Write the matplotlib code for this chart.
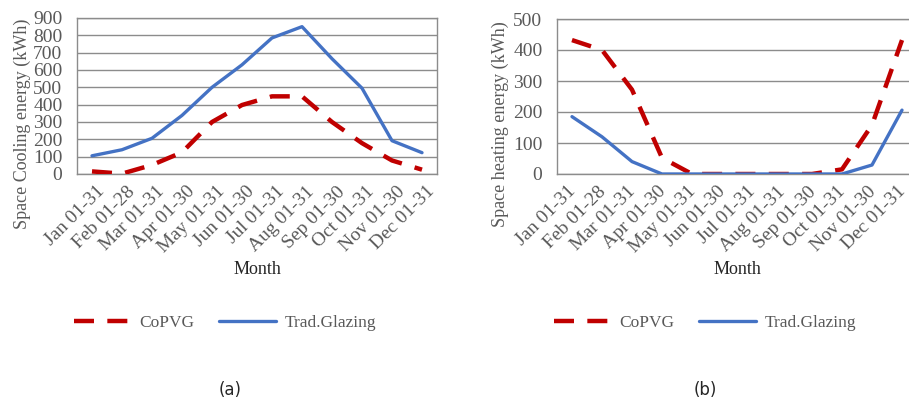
import matplotlib
matplotlib.use("Agg")
import matplotlib.pyplot as plt
import matplotlib.transforms as mtransforms

months = ["Jan 01-31", "Feb 01-28", "Mar 01-31", "Apr 01-30", "May 01-31", "Jun 01-30",
          "Jul 01-31", "Aug 01-31", "Sep 01-30", "Oct 01-31", "Nov 01-30", "Dec 01-31"]

# (a) space cooling energy, kWh
cool_copvg = [15, 2, 52, 125, 300, 398, 448, 448, 300, 178, 78, 25]
cool_trad = [105, 140, 206, 338, 500, 630, 785, 850, 665, 495, 192, 123]

# (b) space heating energy, kWh
heat_copvg = [432, 400, 272, 52, 0, 0, 0, 0, 0, 15, 158, 432]
heat_trad = [185, 120, 40, 0, 0, 0, 0, 0, 0, 0, 29, 206]

red = "#C00000"
blue = "#4472C4"
gray_txt = "#595959"
grid_c = "#8C8C8C"
serif = ["Liberation Serif", "DejaVu Serif"]

plt.rcParams['font.family'] = serif

fig = plt.figure(figsize=(9.09, 4.04), dpi=100)

W, H = 909.0, 404.0
def box(x0, x1, ytop, ybot):
    return [x0 / W, 1 - ybot / H, (x1 - x0) / W, (ybot - ytop) / H]

ax1 = fig.add_axes(box(77, 437, 18, 174))
ax2 = fig.add_axes(box(557, 917, 19, 174))

def style(ax, ymax, ylabel, ylab_x, xoff):
    x = range(len(months))
    ax.set_xlim(-0.5, len(months) - 0.5)
    ax.set_ylim(0, ymax)
    ax.set_yticks(range(0, ymax + 1, 100))
    ax.yaxis.grid(True, color=grid_c, linewidth=1.0)
    ax.set_axisbelow(True)
    for s in ax.spines.values():
        s.set_color(grid_c)
        s.set_linewidth(1.0)
    ax.tick_params(axis="y", length=0, labelsize=14, labelcolor=gray_txt, pad=10.5)
    ax.tick_params(axis="x", length=0, labelcolor=gray_txt, pad=6.5)
    ax.set_xticks(list(x))
    ax.set_xticklabels(months, rotation=45, ha="right", va="top",
                       rotation_mode="anchor", fontsize=14)
    off = mtransforms.ScaledTranslation(xoff / 100, 0, fig.dpi_scale_trans)
    for lab in ax.get_xticklabels():
        lab.set_transform(lab.get_transform() + off)
    fig.text(ylab_x / W, 1 - 124 / H, ylabel, rotation=90, ha="center", va="center",
             fontsize=13, color=gray_txt)

def draw(ax, copvg, trad):
    x = range(len(months))
    ax.plot(x, copvg, color=red, linewidth=3.2, linestyle=(0, (4.5, 3.0)),
            dash_capstyle="butt", label="CoPVG", zorder=3)
    ax.plot(x, trad, color=blue, linewidth=2.4, solid_capstyle="round",
            label="Trad.Glazing", zorder=3)

draw(ax1, cool_copvg, cool_trad)
draw(ax2, heat_copvg, heat_trad)
style(ax1, 900, "Space Cooling energy (kWh)", 22, 4)
style(ax2, 500, "Space heating energy (kWh)", 500, -5)

fig.text(257 / W, 1 - 270 / H, "Month", ha="center", va="center", fontsize=13, color="#262626")
fig.text(737 / W, 1 - 270 / H, "Month", ha="center", va="center", fontsize=13, color="#262626")

for ax, cx in [(ax1, 225), (ax2, 705)]:
    ax.legend(loc="center", bbox_to_anchor=(cx / W, 1 - 323 / H),
              bbox_transform=fig.transFigure, ncol=2, frameon=False,
              fontsize=12.5, labelcolor=gray_txt, handlelength=3.3,
              handletextpad=0.5, columnspacing=1.4)

fig.text(230 / W, 1 - 390 / H, "(a)", ha="center", va="center", fontsize=12,
         family=["DejaVu Sans"], color="#262626")
fig.text(705 / W, 1 - 390 / H, "(b)", ha="center", va="center", fontsize=12,
         family=["DejaVu Sans"], color="#262626")

fig.savefig("out.png", dpi=100)
